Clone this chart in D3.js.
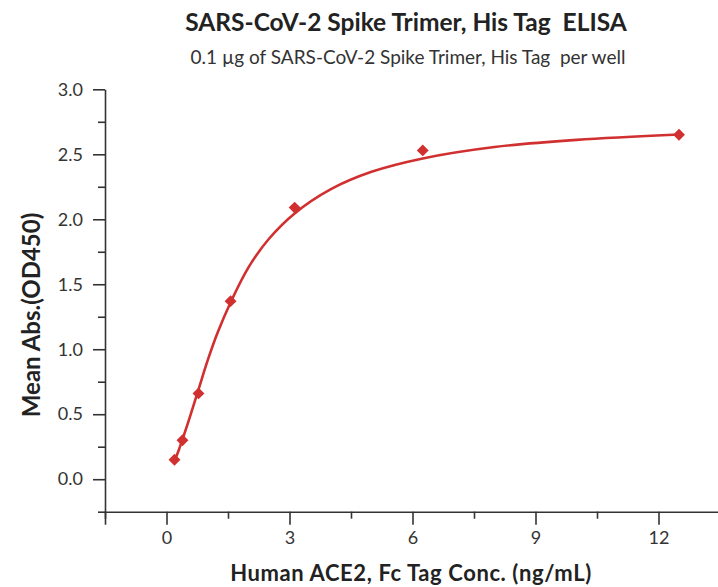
<!DOCTYPE html>
<html lang="en">
<head>
<meta charset="utf-8">
<title>SARS-CoV-2 Spike Trimer, His Tag ELISA</title>
<script src="https://cdn.jsdelivr.net/npm/d3@7"></script>
<style>
    body {
        margin: 0;
        background: #fff;
        font-family: Lato, "Open Sans", sans-serif;
    }
    .axis path,
    .axis line {
        stroke: #333;
        stroke-width: 1.6px;
    }
    .axis text {
        font-family: Lato, sans-serif;
        font-size: 18px;
        fill: #333;
    }
    .title {
        font-weight: bold;
        font-size: 24.5px;
        fill: #222;
    }
    .subtitle {
        font-size: 19px;
        fill: #333;
    }
    .axisLabel {
        font-weight: bold;
        font-size: 24px;
        fill: #222;
    }
    .xLabel {
        font-weight: bold;
        font-size: 22px;
        letter-spacing: 0.6px;
        fill: #222;
    }
</style>
</head>
<body>
<script>
    // measured points (Human ACE2 conc. in ng/mL vs mean OD450)
    const concentrations = [0.195, 0.39, 0.78, 1.5625, 3.125, 6.25, 12.5];
    const meanAbs = [0.15, 0.30, 0.66, 1.37, 2.09, 2.53, 2.65];

    // fitted curve
    const fitConc = [0.195, 0.3, 0.5, 0.78, 1.0, 1.25, 1.5625, 2.0, 2.5, 3.125, 4.0, 5.0, 6.25, 8.0, 10.0, 12.5];
    const fitAbs = [0.14, 0.225, 0.41, 0.69, 0.91, 1.13, 1.36, 1.63, 1.85, 2.045, 2.23, 2.365, 2.468, 2.556, 2.611, 2.652];

    const xMajorTicks = [0, 3, 6, 9, 12];
    const xMinorTicks = [-1.5, 1.5, 4.5, 7.5, 10.5];
    const yMajorTicks = [0, 0.5, 1.0, 1.5, 2.0, 2.5, 3.0];
    const yMinorTicks = [-0.25, 0.25, 0.75, 1.25, 1.75, 2.25, 2.75];

    const titleText = "SARS-CoV-2 Spike Trimer, His Tag\u00a0\u00a0ELISA";
    const subtitleText = "0.1 \u00b5g of SARS-CoV-2 Spike Trimer, His Tag\u00a0\u00a0per well";
    const xLabel = "Human ACE2, Fc Tag Conc. (ng/mL)";
    const yLabel = "Mean Abs.(OD450)";

    const width = 718, height = 587;
    const margin = {top: 89.3, right: -2, bottom: 75.3, left: 105};
    const red = "#d0302f";

    let svg = d3.select("body").append("svg")
        .attr("width", width)
        .attr("height", height);

    let x = d3.scaleLinear()
        .domain([-1.5, 13.5])
        .range([margin.left, width - margin.right]);

    let y = d3.scaleLinear()
        .domain([-0.25, 3.0])
        .range([height - margin.bottom, margin.top]);

    // x axis: major + minor ticks
    svg.append("g")
        .attr("class", "axis")
        .attr("transform", "translate(0," + y(-0.25) + ")")
        .call(d3.axisBottom(x).tickValues(xMajorTicks).tickSize(13).tickPadding(7).tickFormat(d3.format("d")));

    svg.append("g")
        .attr("class", "axis")
        .attr("transform", "translate(0," + y(-0.25) + ")")
        .call(d3.axisBottom(x).tickValues(xMinorTicks).tickSize(7).tickFormat(""))
        .select(".domain").remove();

    // y axis
    svg.append("g")
        .attr("class", "axis")
        .attr("transform", "translate(" + x(-1.5) + ",0)")
        .call(d3.axisLeft(y).tickValues(yMajorTicks).tickSize(12).tickPadding(10).tickSizeOuter(0).tickFormat(d3.format(".1f")));

    svg.append("g")
        .attr("class", "axis")
        .attr("transform", "translate(" + x(-1.5) + ",0)")
        .call(d3.axisLeft(y).tickValues(yMinorTicks).tickSize(7).tickFormat(""))
        .select(".domain").remove();

    // fitted curve
    let fitData = fitConc.map(function(c, i) { return {c: c, v: fitAbs[i]}; });
    svg.append("path")
        .datum(fitData)
        .attr("fill", "none")
        .attr("stroke", red)
        .attr("stroke-width", 2.6)
        .attr("d", d3.line()
            .x(function(d) { return x(d.c); })
            .y(function(d) { return y(d.v); })
            .curve(d3.curveCatmullRom.alpha(0.5)));

    // diamonds
    let points = concentrations.map(function(c, i) { return {c: c, v: meanAbs[i]}; });
    svg.selectAll(".pt")
        .data(points)
        .enter().append("path")
        .attr("class", "pt")
        .attr("d", d3.symbol().type(d3.symbolDiamond2).size(90))
        .attr("transform", function(d) { return "translate(" + x(d.c) + "," + y(d.v) + ")"; })
        .attr("fill", red);

    // titles
    svg.append("text")
        .attr("class", "title")
        .attr("x", 406)
        .attr("y", 31)
        .attr("text-anchor", "middle")
        .text(titleText);

    svg.append("text")
        .attr("class", "subtitle")
        .attr("x", 408)
        .attr("y", 64)
        .attr("text-anchor", "middle")
        .text(subtitleText);

    svg.append("text")
        .attr("class", "xLabel")
        .attr("x", 411)
        .attr("y", 581)
        .attr("text-anchor", "middle")
        .text(xLabel);

    svg.append("text")
        .attr("class", "axisLabel")
        .attr("transform", "translate(40,315) rotate(-90)")
        .attr("text-anchor", "middle")
        .text(yLabel);
</script>
</body>
</html>
